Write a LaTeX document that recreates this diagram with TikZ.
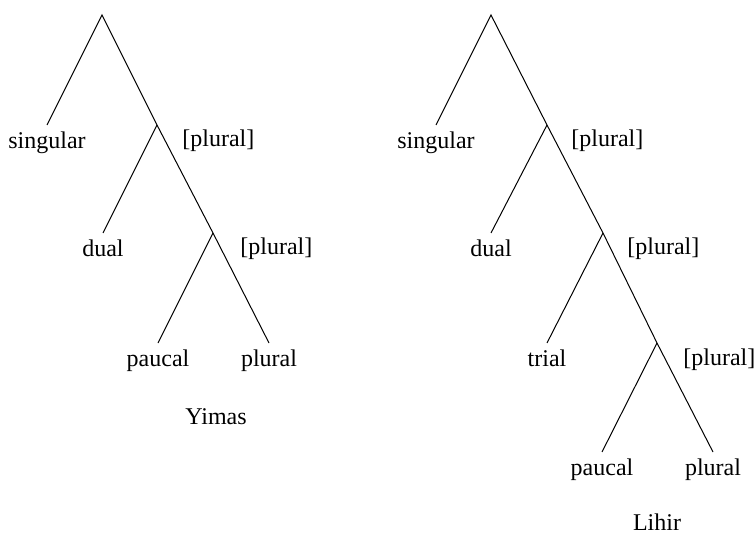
\documentclass[tikz,border=0pt]{standalone}
\usepackage{fontspec}
\setmainfont{Liberation Serif}
\usetikzlibrary{positioning}
\tikzset{
	leaf/.style={anchor=north, inner sep=3pt, font=\fontsize{12}{14}\selectfont},
	feat/.style={anchor=base west, inner sep=0pt, font=\fontsize{12}{14}\selectfont},
	lang/.style={anchor=base, inner sep=0pt, font=\fontsize{12}{14}\selectfont},
	branch/.style={black, line width=0.5pt}
}

\begin{document}
\begin{tikzpicture}[x=0.5pt, y=-0.5pt]
			    		\useasboundingbox (0,0) rectangle (754,534);
			    		% Yimas
			    		\coordinate (ytop) at (102, 15);
			    		\coordinate (ya) at (157, 125);
			    		\coordinate (yb) at (213, 233);
			    		\node[leaf] (ysg) at ( 47, 125) {singular};
			    		\node[leaf] (ydu) at (103, 233) {dual};
			    		\node[leaf] (ypa) at (158, 343) {paucal};
			    		\node[leaf] (ypl) at (269, 343) {plural};
			    		\draw[branch] (ysg.north) -- (ytop) -- (ya) -- (yb) -- (ypl.north);
			    		\draw[branch] (ya) -- (ydu.north);
			    		\draw[branch] (yb) -- (ypa.north);
			    		\node[feat] (yfa) at (182, 147) {[plural]};
			    		\node[feat] (yfb) at (240, 255) {[plural]};
			    		\node[lang] (yname) at (216, 424) {Yimas};
			    		% Lihir
			    		\coordinate (ltop) at (491, 15);
			    		\coordinate (la) at (547, 125);
			    		\coordinate (lb) at (603, 233);
			    		\coordinate (lc) at (657, 343);
			    		\node[leaf] (lsg) at (436, 125) {singular};
			    		\node[leaf] (ldu) at (491, 233) {dual};
			    		\node[leaf] (ltr) at (547, 343) {trial};
			    		\node[leaf] (lpa) at (602, 452) {paucal};
			    		\node[leaf] (lpl) at (713, 452) {plural};
			    		\draw[branch] (lsg.north) -- (ltop) -- (la) -- (lb) -- (lc) -- (lpl.north);
			    		\draw[branch] (la) -- (ldu.north);
			    		\draw[branch] (lb) -- (ltr.north);
			    		\draw[branch] (lc) -- (lpa.north);
			    		\node[feat] (lfa) at (571, 147) {[plural]};
			    		\node[feat] (lfb) at (627, 255) {[plural]};
			    		\node[feat] (lfc) at (683, 365) {[plural]};
			    		\node[lang] (lname) at (657, 530) {Lihir};
			    	\end{tikzpicture}
\end{document}
